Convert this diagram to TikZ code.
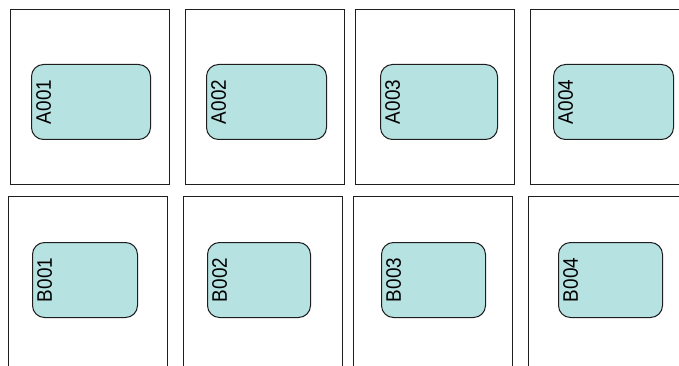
\documentclass[tikz,border=0pt]{standalone}
\usepackage{fontspec}
\setmainfont{Liberation Sans}
\definecolor{cellfill}{HTML}{B6E2E1}
\definecolor{edge}{HTML}{1E1E1E}
\begin{document}
\begin{tikzpicture}[x=1pt,y=-1pt,
  cell/.style={draw=edge,line width=1.2pt,fill=white,inner sep=0,minimum width=159pt,anchor=north west},
  slot/.style={draw=edge,line width=1pt,fill=cellfill,rounded corners=12pt,inner sep=0,minimum height=75pt,anchor=north west},
  tag/.style={rotate=90,xscale=0.9,anchor=north,inner sep=0,font=\fontsize{21}{24}\selectfont,text=black}]
\useasboundingbox (0,0) rectangle (679,366);
\clip (0,0) rectangle (679,366);
% top row cells
\node[cell,minimum height=175pt] (ca1) at (10,9) {};
\node[cell,minimum height=175pt] (ca2) at (185,9) {};
\node[cell,minimum height=175pt] (ca3) at (355,9) {};
\node[cell,minimum height=175pt] (ca4) at (530,9) {};
% bottom row cells
\node[cell,minimum height=200pt] (cb1) at (8,196) {};
\node[cell,minimum height=200pt] (cb2) at (183,196) {};
\node[cell,minimum height=200pt] (cb3) at (353,196) {};
\node[cell,minimum height=200pt] (cb4) at (528,196) {};
% top row slots
\node[slot,minimum width=119pt] (sa1) at (31,64) {};
\node[slot,minimum width=120pt] (sa2) at (206,64) {};
\node[slot,minimum width=117pt] (sa3) at (380,64) {};
\node[slot,minimum width=120pt] (sa4) at (553,64) {};
% bottom row slots
\node[slot,minimum width=105pt] (sb1) at (32,242) {};
\node[slot,minimum width=103pt] (sb2) at (207,242) {};
\node[slot,minimum width=104pt] (sb3) at (381,242) {};
\node[slot,minimum width=104pt] (sb4) at (558,242) {};
% labels
\node[tag] (la1) at ([xshift=5pt]sa1.west) {A001};
\node[tag] (la2) at ([xshift=5pt]sa2.west) {A002};
\node[tag] (la3) at ([xshift=5pt]sa3.west) {A003};
\node[tag] (la4) at ([xshift=5pt]sa4.west) {A004};
\node[tag] (lb1) at ([xshift=5pt]sb1.west) {B001};
\node[tag] (lb2) at ([xshift=5pt]sb2.west) {B002};
\node[tag] (lb3) at ([xshift=5pt]sb3.west) {B003};
\node[tag] (lb4) at ([xshift=5pt]sb4.west) {B004};
\end{tikzpicture}
\end{document}
